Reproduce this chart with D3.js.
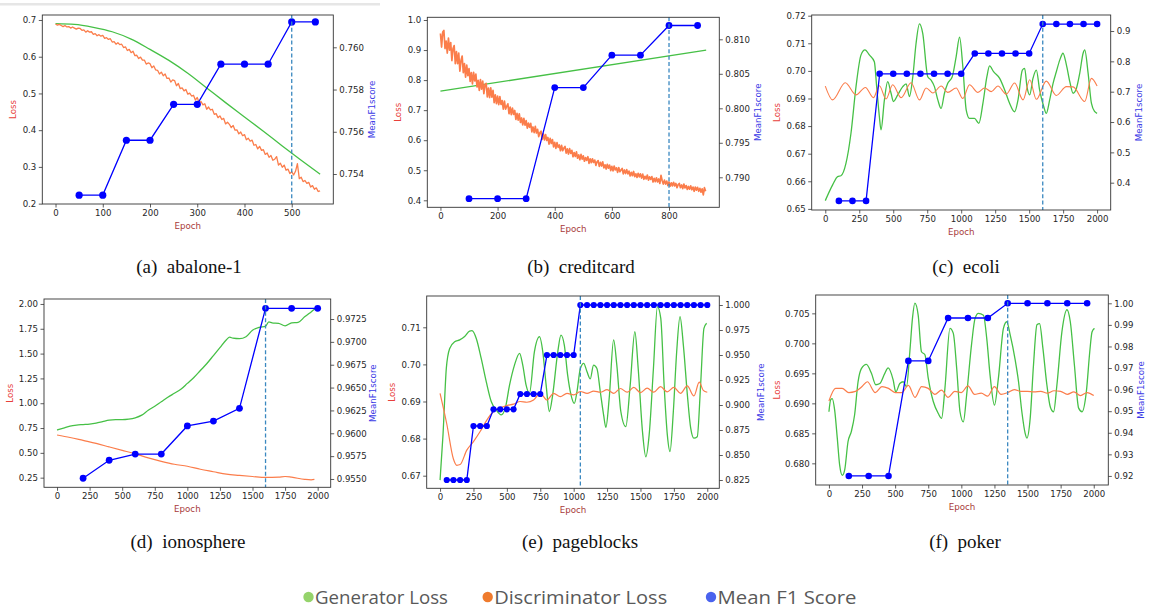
<!DOCTYPE html>
<html>
<head>
<meta charset="utf-8">
<script src="https://cdnjs.cloudflare.com/ajax/libs/d3/7.8.5/d3.min.js"></script>
<style>
  body { margin: 0; background: #fff; }
  svg { display: block; }
</style>
</head>
<body>
<svg id="chart" width="1153" height="607"></svg>
<script>
// ---- (a) abalone-1
const abaloneF1Epochs = [50, 100, 150, 200, 250, 300, 350, 400, 450, 500, 550];
const abaloneF1 = [0.7530, 0.7530, 0.7556, 0.7556, 0.7573, 0.7573, 0.7592, 0.7592, 0.7592, 0.7612, 0.7612];
const abaloneGenEpochs = [0, 40, 80, 120, 160, 200, 240, 280, 320, 360, 400, 440, 480, 520, 560];
const abaloneGen = [0.690, 0.688, 0.680, 0.668, 0.648, 0.620, 0.590, 0.555, 0.515, 0.475, 0.436, 0.397, 0.357, 0.318, 0.280];
const abaloneDiscStep = 4; // one value every 4 epochs
const abaloneDisc = [
  0.689, 0.686, 0.688, 0.685, 0.682, 0.685, 0.681, 0.682, 0.678, 0.681, 0.678, 0.675, 0.678,
  0.677, 0.672, 0.673, 0.667, 0.671, 0.667, 0.668, 0.661, 0.663, 0.657, 0.660, 0.656, 0.658,
  0.650, 0.652, 0.647, 0.649, 0.640, 0.641, 0.634, 0.638, 0.633, 0.634, 0.625, 0.627,
  0.617, 0.620, 0.611, 0.615, 0.603, 0.604, 0.595, 0.599, 0.591, 0.591, 0.580, 0.583, 0.581,
  0.570, 0.575, 0.564, 0.563, 0.553, 0.558, 0.548, 0.553, 0.541, 0.542, 0.531, 0.537,
  0.535, 0.521, 0.527, 0.513, 0.515, 0.507, 0.511, 0.498, 0.501, 0.493, 0.495, 0.482, 0.489,
  0.475, 0.478, 0.469, 0.472, 0.457, 0.463, 0.455, 0.457, 0.443, 0.445, 0.434, 0.439,
  0.429, 0.432, 0.417, 0.422, 0.416, 0.407, 0.413, 0.400, 0.401, 0.390, 0.395, 0.385, 0.388,
  0.374, 0.378, 0.370, 0.373, 0.359, 0.361, 0.349, 0.356, 0.345, 0.347, 0.334, 0.338,
  0.326, 0.331, 0.318, 0.321, 0.328, 0.305, 0.310, 0.299, 0.305, 0.291, 0.294, 0.282, 0.287,
  0.278, 0.288, 0.309, 0.268, 0.272, 0.260, 0.263, 0.255, 0.258, 0.245, 0.249, 0.239, 0.243, 0.233, 0.235
];

// ---- (b) creditcard
const creditF1Epochs = [100, 200, 300, 400, 500, 600, 700, 800, 900];
const creditF1 = [0.7869, 0.7869, 0.7869, 0.8030, 0.8030, 0.8077, 0.8077, 0.8120, 0.8120];
const creditGenEpochs = [0, 930];
const creditGen = [0.763, 0.900];
const creditDiscStep = 4;
const creditDisc = [
  0.955, 0.910, 0.960, 0.965, 0.905, 0.930, 0.890, 0.940, 0.900, 0.925, 0.865, 0.905, 0.915,
  0.855, 0.895, 0.855, 0.890, 0.830, 0.865, 0.880, 0.825, 0.855, 0.810, 0.850, 0.815,
  0.838, 0.796, 0.825, 0.787, 0.826, 0.797, 0.820, 0.777, 0.799, 0.766, 0.802, 0.770, 0.797,
  0.755, 0.785, 0.789, 0.744, 0.773, 0.742, 0.774, 0.743, 0.766, 0.725, 0.751, 0.722,
  0.747, 0.718, 0.745, 0.719, 0.732, 0.703, 0.730, 0.703, 0.713, 0.721, 0.688, 0.710, 0.685,
  0.707, 0.686, 0.699, 0.669, 0.689, 0.667, 0.688, 0.659, 0.674, 0.651, 0.673, 0.650,
  0.665, 0.640, 0.657, 0.643, 0.656, 0.628, 0.644, 0.625, 0.646, 0.624, 0.636, 0.612, 0.625,
  0.630, 0.603, 0.621, 0.601, 0.619, 0.599, 0.609, 0.587, 0.606, 0.589, 0.602, 0.578,
  0.593, 0.573, 0.592, 0.576, 0.584, 0.565, 0.583, 0.565, 0.574, 0.579, 0.557, 0.571, 0.554,
  0.572, 0.556, 0.566, 0.545, 0.559, 0.546, 0.561, 0.540, 0.551, 0.535, 0.553, 0.537,
  0.548, 0.530, 0.542, 0.533, 0.545, 0.523, 0.538, 0.525, 0.538, 0.526, 0.534, 0.516, 0.528,
  0.532, 0.513, 0.526, 0.514, 0.528, 0.508, 0.518, 0.504, 0.520, 0.507, 0.517, 0.499,
  0.513, 0.498, 0.514, 0.501, 0.508, 0.493, 0.509, 0.495, 0.501, 0.506, 0.488, 0.501, 0.489,
  0.502, 0.488, 0.497, 0.481, 0.493, 0.482, 0.496, 0.479, 0.488, 0.476, 0.490, 0.478,
  0.488, 0.474, 0.487, 0.470, 0.480, 0.471, 0.484, 0.467, 0.478, 0.470, 0.479, 0.461, 0.473,
  0.462, 0.475, 0.461, 0.471, 0.456, 0.483, 0.466, 0.454, 0.467, 0.454, 0.464, 0.449,
  0.461, 0.447, 0.458, 0.448, 0.460, 0.448, 0.456, 0.442, 0.452, 0.456, 0.442, 0.451, 0.439,
  0.454, 0.441, 0.449, 0.436, 0.446, 0.437, 0.448, 0.435, 0.444, 0.430, 0.444, 0.434,
  0.443, 0.430, 0.440, 0.427, 0.438, 0.418, 0.442, 0.430
];

// ---- (c) ecoli
const ecoliF1Epochs = [100, 200, 300, 400, 500, 600, 700, 800, 900, 1000, 1100, 1200, 1300, 1400, 1500, 1600, 1700, 1800, 1900, 2000];
const ecoliF1 = [0.34, 0.34, 0.34, 0.759, 0.759, 0.759, 0.759, 0.759, 0.759, 0.759, 0.826, 0.826, 0.826, 0.826, 0.826, 0.923, 0.923, 0.923, 0.923, 0.923];
const ecoliGenEpochs = [0, 54, 91, 115, 152, 189, 226, 263, 292, 324, 361, 378, 398, 410, 435, 459, 484, 501, 533, 570, 595, 619, 644, 668, 693, 717, 754, 778, 803, 828, 852, 877, 901, 934, 963, 988, 1012, 1037, 1061, 1098, 1130, 1160, 1189, 1209, 1238, 1283, 1320, 1356, 1393, 1418, 1450, 1467, 1484, 1504, 1528, 1553, 1577, 1607, 1626, 1651, 1676, 1700, 1725, 1749, 1774, 1799, 1823, 1848, 1872, 1897, 1909, 1934, 1958, 1983, 2000];
const ecoliGen = [0.6530, 0.6587, 0.6617, 0.6620, 0.6665, 0.6774, 0.6943, 0.7058, 0.7076, 0.7058, 0.7033, 0.6943, 0.6834, 0.6786, 0.6895, 0.6961, 0.6919, 0.6889, 0.6913, 0.6943, 0.6953, 0.6907, 0.6979, 0.7100, 0.7170, 0.7136, 0.6979, 0.6967, 0.6943, 0.6895, 0.6864, 0.6919, 0.6955, 0.6979, 0.7052, 0.7122, 0.7015, 0.6858, 0.6828, 0.6828, 0.6810, 0.6883, 0.6979, 0.7018, 0.6997, 0.6973, 0.6931, 0.6883, 0.6852, 0.6895, 0.7003, 0.7009, 0.6943, 0.6913, 0.6973, 0.7003, 0.6931, 0.6871, 0.6846, 0.6895, 0.6955, 0.6997, 0.7039, 0.7064, 0.7022, 0.6961, 0.6919, 0.6937, 0.6991, 0.7064, 0.7076, 0.6991, 0.6883, 0.6852, 0.6846];
const ecoliDiscEpochs = [0, 54, 147, 226, 295, 354, 398, 447, 496, 558, 631, 693, 742, 791, 853, 901, 963, 1012, 1061, 1123, 1172, 1221, 1270, 1332, 1393, 1455, 1504, 1553, 1626, 1700, 1774, 1823, 1909, 1958, 2000];
const ecoliDisc = [0.6945, 0.6895, 0.6957, 0.6913, 0.6940, 0.6903, 0.6946, 0.6898, 0.6950, 0.6903, 0.6957, 0.6895, 0.6938, 0.6920, 0.6945, 0.6922, 0.6938, 0.6900, 0.6950, 0.6922, 0.6938, 0.6925, 0.6945, 0.6916, 0.6956, 0.6895, 0.6968, 0.6897, 0.6963, 0.6911, 0.6943, 0.6942, 0.6889, 0.6973, 0.6945];

// ---- (d) ionosphere
const ionoF1Epochs = [200, 400, 600, 800, 1000, 1200, 1400, 1600, 1800, 2000];
const ionoF1 = [0.95508, 0.95705, 0.95773, 0.95773, 0.96080, 0.96134, 0.96273, 0.97367, 0.97367, 0.97367];
const ionoGenEpochs = [0, 50, 100, 150, 200, 250, 300, 350, 400, 450, 500, 550, 600, 650, 700, 750, 800, 850, 900, 950, 1000, 1050, 1100, 1150, 1200, 1250, 1300, 1325, 1350, 1400, 1450, 1500, 1550, 1600, 1625, 1650, 1700, 1750, 1800, 1850, 1900, 1950, 1975, 2000];
const ionoGen = [0.73, 0.75, 0.77, 0.78, 0.785, 0.79, 0.80, 0.815, 0.83, 0.835, 0.835, 0.84, 0.853, 0.88, 0.93, 0.97, 1.015, 1.06, 1.10, 1.14, 1.20, 1.26, 1.33, 1.40, 1.48, 1.56, 1.64, 1.665, 1.655, 1.65, 1.67, 1.735, 1.765, 1.775, 1.82, 1.81, 1.805, 1.78, 1.81, 1.815, 1.87, 1.92, 1.945, 1.95];
const ionoDiscEpochs = [0, 100, 200, 300, 400, 500, 600, 700, 800, 900, 1000, 1100, 1200, 1300, 1400, 1500, 1600, 1700, 1750, 1800, 1900, 1950, 1975];
const ionoDisc = [0.68, 0.655, 0.625, 0.595, 0.56, 0.525, 0.49, 0.45, 0.415, 0.385, 0.365, 0.335, 0.31, 0.285, 0.273, 0.262, 0.252, 0.255, 0.262, 0.255, 0.233, 0.228, 0.232];

// ---- (e) pageblocks
const pageF1Epochs = [50, 100, 150, 200, 250, 300, 350, 400, 450, 500, 550, 600, 650, 700, 750, 800, 850, 900, 950, 1000, 1050, 1100, 1150, 1200, 1250, 1300, 1350, 1400, 1450, 1500, 1550, 1600, 1650, 1700, 1750, 1800, 1850, 1900, 1950, 2000];
const pageF1 = [0.825, 0.825, 0.825, 0.825, 0.879, 0.879, 0.879, 0.8957, 0.8957, 0.8957, 0.8957, 0.911, 0.911, 0.911, 0.911, 0.95, 0.95, 0.95, 0.95, 0.95, 1, 1, 1, 1, 1, 1, 1, 1, 1, 1, 1, 1, 1, 1, 1, 1, 1, 1, 1, 1];
const pageGenEpochs = [0, 22, 47, 72, 109, 147, 184, 221, 239, 271, 308, 346, 383, 420, 458, 488, 520, 557, 595, 619, 644, 669, 706, 744, 769, 794, 818, 843, 881, 905, 930, 955, 980, 1005, 1025, 1050, 1075, 1100, 1124, 1149, 1174, 1199, 1224, 1241, 1266, 1299, 1323, 1353, 1390, 1423, 1458, 1483, 1515, 1540, 1565, 1597, 1627, 1652, 1677, 1701, 1721, 1746, 1771, 1796, 1821, 1851, 1876, 1900, 1925, 1950, 1975, 1995];
const pageGen = [0.6688, 0.6810, 0.6990, 0.7043, 0.7061, 0.7066, 0.7075, 0.7090, 0.7091, 0.7070, 0.7016, 0.6953, 0.6900, 0.6877, 0.6864, 0.6882, 0.6944, 0.6998, 0.7030, 0.6998, 0.6944, 0.6922, 0.7034, 0.7075, 0.7034, 0.6944, 0.6873, 0.6918, 0.7034, 0.7079, 0.7052, 0.6971, 0.6918, 0.6895, 0.6927, 0.6989, 0.7003, 0.6980, 0.6961, 0.6998, 0.6989, 0.6927, 0.6864, 0.6830, 0.6909, 0.7066, 0.6998, 0.6873, 0.6832, 0.6944, 0.7088, 0.6989, 0.6819, 0.6751, 0.6810, 0.6989, 0.7156, 0.7124, 0.6944, 0.6810, 0.6765, 0.6873, 0.7034, 0.7129, 0.7052, 0.6918, 0.6828, 0.6801, 0.6805, 0.6944, 0.7097, 0.7111];
const pageDiscEpochs = [0, 50, 100, 125, 150, 200, 250, 300, 350, 400, 450, 500, 550, 600, 650, 700, 750, 800, 850, 900, 950, 1000, 1050, 1100, 1150, 1200, 1250, 1300, 1350, 1400, 1450, 1500, 1550, 1600, 1650, 1700, 1750, 1800, 1850, 1900, 1940, 1970, 2000];
const pageDisc = [0.6922, 0.6840, 0.6745, 0.6728, 0.6730, 0.6769, 0.6792, 0.6819, 0.6850, 0.6873, 0.6883, 0.6889, 0.6893, 0.6900, 0.6898, 0.6904, 0.6922, 0.6904, 0.6922, 0.6913, 0.6922, 0.6918, 0.6927, 0.6922, 0.6928, 0.6925, 0.6932, 0.6922, 0.6935, 0.6925, 0.6938, 0.6924, 0.6936, 0.6925, 0.6940, 0.6926, 0.6938, 0.6922, 0.6942, 0.6915, 0.6952, 0.6930, 0.6925];

// ---- (f) poker
const pokerF1Epochs = [150, 300, 450, 600, 750, 900, 1050, 1200, 1350, 1500, 1650, 1800, 1950];
const pokerF1 = [0.92, 0.92, 0.92, 0.9733, 0.9733, 0.9932, 0.9932, 0.9932, 1.0, 1.0, 1.0, 1.0, 1.0];
const pokerGenEpochs = [0, 13, 25, 43, 63, 81, 101, 119, 144, 169, 194, 220, 245, 283, 321, 354, 384, 422, 447, 485, 505, 535, 561, 586, 611, 631, 649, 674, 699, 725, 750, 788, 826, 851, 876, 914, 939, 965, 990, 1015, 1040, 1078, 1104, 1129, 1167, 1192, 1217, 1250, 1280, 1318, 1343, 1369, 1407, 1432, 1457, 1482, 1495, 1520, 1545, 1571, 1591, 1616, 1646, 1672, 1697, 1722, 1760, 1798, 1823, 1854, 1886, 1912, 1944, 1970, 1987, 2005];
const pokerGen = [0.6886, 0.6906, 0.6908, 0.6889, 0.6842, 0.6797, 0.6780, 0.6789, 0.6836, 0.6853, 0.6881, 0.6936, 0.6958, 0.6965, 0.6950, 0.6931, 0.6933, 0.6950, 0.6959, 0.6939, 0.6919, 0.6933, 0.6936, 0.6928, 0.6986, 0.7042, 0.7067, 0.7047, 0.6986, 0.6981, 0.6942, 0.6903, 0.6883, 0.6875, 0.6925, 0.7025, 0.7017, 0.6958, 0.6886, 0.6869, 0.6914, 0.7000, 0.7042, 0.7050, 0.7047, 0.7008, 0.6947, 0.6897, 0.6942, 0.7025, 0.7036, 0.7014, 0.6972, 0.6936, 0.6886, 0.6850, 0.6842, 0.6875, 0.6964, 0.7031, 0.7033, 0.6992, 0.6931, 0.6894, 0.6886, 0.6931, 0.7020, 0.7056, 0.7036, 0.6964, 0.6892, 0.6886, 0.6919, 0.6986, 0.7019, 0.7025];
const pokerDiscEpochs = [0, 50, 100, 150, 200, 250, 290, 350, 400, 450, 500, 550, 600, 650, 700, 750, 800, 850, 900, 950, 1000, 1050, 1100, 1150, 1200, 1250, 1300, 1350, 1400, 1450, 1500, 1550, 1600, 1650, 1700, 1750, 1800, 1850, 1900, 1950, 2000];
const pokerDisc = [0.6904, 0.6925, 0.6925, 0.6918, 0.6920, 0.6928, 0.6936, 0.6918, 0.6928, 0.6925, 0.6918, 0.6918, 0.6930, 0.6910, 0.6928, 0.6925, 0.6915, 0.6922, 0.6910, 0.6920, 0.6918, 0.6929, 0.6915, 0.6917, 0.6912, 0.6928, 0.6915, 0.6918, 0.6923, 0.6920, 0.6920, 0.6919, 0.6920, 0.6917, 0.6921, 0.6920, 0.6915, 0.6919, 0.6913, 0.6918, 0.6913];

// ---- legend
const legendLabels = ["Generator Loss", "Discriminator Loss", "Mean F1 Score"];

const genColor = "#46c046";
const discColor = "#fb7d4b";
const f1Color = "#0000ff";
const tickFont = "DejaVu Sans";

const svg = d3.select("#chart");

// faint rule across the top left
svg.append("rect").attr("x", 0).attr("y", 3).attr("width", 380).attr("height", 2.5).attr("fill", "#e6e6e6");

const stepped = (arr, step) => arr.map((v, i) => [i * step, v]);

const panels = [
  {
    id: "a", left: 42.3, right: 333.3, top: 15, bottom: 204,
    xDomain: [-28, 588], lossDomain: [0.199, 0.7136], f1Domain: [0.75258, 0.76153],
    xTicks: d3.range(0, 501, 100), lossTicks: d3.range(0.2, 0.71, 0.1), lossFmt: ".1f",
    f1Ticks: [0.754, 0.756, 0.758, 0.760], f1Fmt: ".3f",
    gen: d3.zip(abaloneGenEpochs, abaloneGen), genCurve: d3.curveMonotoneX,
    disc: stepped(abaloneDisc, abaloneDiscStep), discCurve: d3.curveLinear, discWidth: 1.3,
    f1: d3.zip(abaloneF1Epochs, abaloneF1), best: 500, r: 3.6,
    lossLabelX: 13, f1LabelX: 372, caption: "(a)\u00a0 abalone-1", capX: 189, capY: 273
  },
  {
    id: "b", left: 427.3, right: 719.3, top: 17.3, bottom: 207.3,
    xDomain: [-46, 976], lossDomain: [0.3767, 1.009], f1Domain: [0.78565, 0.81319],
    xTicks: d3.range(0, 801, 200), lossTicks: d3.range(0.4, 1.01, 0.1), lossFmt: ".1f",
    f1Ticks: [0.790, 0.795, 0.800, 0.805, 0.810], f1Fmt: ".3f",
    gen: d3.zip(creditGenEpochs, creditGen), genCurve: d3.curveLinear,
    disc: stepped(creditDisc, creditDiscStep), discCurve: d3.curveLinear, discWidth: 1.7,
    f1: d3.zip(creditF1Epochs, creditF1), best: 800, r: 3.4,
    lossLabelX: 398, f1LabelX: 757.7, caption: "(b)\u00a0 creditcard", capX: 581, capY: 273
  },
  {
    id: "c", left: 811.7, right: 1110.7, top: 15, bottom: 210,
    xDomain: [-100, 2100], lossDomain: [0.6496, 0.72025], f1Domain: [0.31, 0.9528],
    xTicks: d3.range(0, 2001, 250), lossTicks: d3.range(0.65, 0.7201, 0.01), lossFmt: ".2f",
    f1Ticks: d3.range(0.4, 0.91, 0.1), f1Fmt: ".1f",
    gen: d3.zip(ecoliGenEpochs, ecoliGen), genCurve: d3.curveMonotoneX,
    disc: d3.zip(ecoliDiscEpochs, ecoliDisc), discCurve: d3.curveMonotoneX, discWidth: 1.1,
    f1: d3.zip(ecoliF1Epochs, ecoliF1), best: 1600, r: 3.3,
    lossLabelX: 776.7, f1LabelX: 1139.3, caption: "(c)\u00a0 ecoli", capX: 966, capY: 273
  },
  {
    id: "d", left: 44, right: 330.7, top: 299, bottom: 487.3,
    xDomain: [-100, 2100], lossDomain: [0.153, 2.05], f1Domain: [0.95409, 0.97469],
    xTicks: d3.range(0, 2001, 250), lossTicks: d3.range(0.25, 2.01, 0.25), lossFmt: ".2f",
    f1Ticks: d3.range(0.955, 0.9726, 0.0025), f1Fmt: ".4f",
    gen: d3.zip(ionoGenEpochs, ionoGen), genCurve: d3.curveMonotoneX,
    disc: d3.zip(ionoDiscEpochs, ionoDisc), discCurve: d3.curveMonotoneX, discWidth: 1.2,
    f1: d3.zip(ionoF1Epochs, ionoF1), best: 1600, r: 3.4,
    lossLabelX: 10, f1LabelX: 373.3, caption: "(d)\u00a0 ionosphere", capX: 188, capY: 548
  },
  {
    id: "e", left: 426.7, right: 719.3, top: 296, bottom: 488.3,
    xDomain: [-100, 2090], lossDomain: [0.6666, 0.71844], f1Domain: [0.8167, 1.009],
    xTicks: d3.range(0, 2001, 250), lossTicks: d3.range(0.67, 0.7101, 0.01), lossFmt: ".2f",
    f1Ticks: d3.range(0.825, 1.001, 0.025), f1Fmt: ".3f",
    gen: d3.zip(pageGenEpochs, pageGen), genCurve: d3.curveMonotoneX,
    disc: d3.zip(pageDiscEpochs, pageDisc), discCurve: d3.curveMonotoneX, discWidth: 1.2,
    f1: d3.zip(pageF1Epochs, pageF1), best: 1050, r: 3.1,
    lossLabelX: 391.7, f1LabelX: 761, caption: "(e)\u00a0 pageblocks", capX: 580, capY: 548
  },
  {
    id: "f", left: 815.7, right: 1108.3, top: 295, bottom: 485,
    xDomain: [-100, 2110], lossDomain: [0.67639, 0.70806], f1Domain: [0.9158, 1.00385],
    xTicks: d3.range(0, 2001, 250), lossTicks: d3.range(0.68, 0.7051, 0.005), lossFmt: ".3f",
    f1Ticks: d3.range(0.92, 1.001, 0.01), f1Fmt: ".2f",
    gen: d3.zip(pokerGenEpochs, pokerGen), genCurve: d3.curveMonotoneX,
    disc: d3.zip(pokerDiscEpochs, pokerDisc), discCurve: d3.curveMonotoneX, discWidth: 1.2,
    f1: d3.zip(pokerF1Epochs, pokerF1), best: 1350, r: 3.3,
    lossLabelX: 776.7, f1LabelX: 1140.7, caption: "(f)\u00a0 poker", capX: 965, capY: 548
  }
];

function styleAxis(sel) {
  sel.select(".domain").remove();
  sel.selectAll(".tick line").attr("stroke", "#333").attr("stroke-width", 0.8);
  sel.selectAll(".tick text")
    .attr("fill", "#262626")
    .style("font-family", tickFont)
    .style("font-size", "8.6px");
}

function drawPanel(p) {
  const x = d3.scaleLinear().domain(p.xDomain).range([p.left, p.right]);
  const yL = d3.scaleLinear().domain(p.lossDomain).range([p.bottom, p.top]);
  const yR = d3.scaleLinear().domain(p.f1Domain).range([p.bottom, p.top]);

  const g = svg.append("g").attr("class", "panel-" + p.id);

  const clipId = "clip-" + p.id;
  svg.append("clipPath").attr("id", clipId)
    .append("rect")
    .attr("x", p.left).attr("y", p.top)
    .attr("width", p.right - p.left).attr("height", p.bottom - p.top);

  const plot = g.append("g").attr("clip-path", `url(#${clipId})`);

  const lossLine = curve => d3.line().x(d => x(d[0])).y(d => yL(d[1])).curve(curve);

  plot.append("path").datum(p.gen)
    .attr("d", lossLine(p.genCurve))
    .attr("fill", "none").attr("stroke", genColor).attr("stroke-width", 1.3);

  plot.append("path").datum(p.disc)
    .attr("d", lossLine(p.discCurve))
    .attr("fill", "none").attr("stroke", discColor).attr("stroke-width", p.discWidth)
    .attr("stroke-linejoin", "round");

  // F1 on the twin axis
  plot.append("path").datum(p.f1)
    .attr("d", d3.line().x(d => x(d[0])).y(d => yR(d[1])))
    .attr("fill", "none").attr("stroke", f1Color).attr("stroke-width", 1.3);

  plot.selectAll("circle.f1").data(p.f1).join("circle")
    .attr("class", "f1")
    .attr("cx", d => x(d[0])).attr("cy", d => yR(d[1]))
    .attr("r", p.r).attr("fill", f1Color);

  // best epoch marker
  g.append("line")
    .attr("x1", x(p.best)).attr("x2", x(p.best))
    .attr("y1", p.top).attr("y2", p.bottom)
    .attr("stroke", "#3a88c0").attr("stroke-width", 1.3)
    .attr("stroke-dasharray", "4,2.4");

  // axes
  g.append("g").attr("transform", `translate(0,${p.bottom})`)
    .call(d3.axisBottom(x).tickValues(p.xTicks).tickFormat(d3.format("d")).tickSizeOuter(0).tickSize(3.5).tickPadding(2.5))
    .call(styleAxis);

  g.append("g").attr("transform", `translate(${p.left},0)`)
    .call(d3.axisLeft(yL).tickValues(p.lossTicks).tickFormat(d3.format(p.lossFmt)).tickSizeOuter(0).tickSize(3.5).tickPadding(2.5))
    .call(styleAxis);

  g.append("g").attr("transform", `translate(${p.right},0)`)
    .call(d3.axisRight(yR).tickValues(p.f1Ticks).tickFormat(d3.format(p.f1Fmt)).tickSizeOuter(0).tickSize(3.5).tickPadding(2.5))
    .call(styleAxis);

  g.append("rect")
    .attr("x", p.left).attr("y", p.top)
    .attr("width", p.right - p.left).attr("height", p.bottom - p.top)
    .attr("fill", "none").attr("stroke", "#333").attr("stroke-width", 0.9);

  const midY = (p.top + p.bottom) / 2;
  const labelFont = sel => sel.style("font-family", tickFont).style("font-size", "8.7px").attr("text-anchor", "middle");

  g.append("text").text("Loss")
    .attr("transform", `translate(${p.lossLabelX + 3},${midY}) rotate(-90)`)
    .attr("fill", "#e8403a").call(labelFont);

  g.append("text").text("MeanF1score")
    .attr("transform", `translate(${p.f1LabelX + 3},${midY}) rotate(-90)`)
    .attr("fill", "#3a3ae6").call(labelFont);

  g.append("text").text("Epoch")
    .attr("x", (p.left + p.right) / 2).attr("y", p.bottom + 25)
    .attr("fill", "#a83a3a").call(labelFont);

  svg.append("text").text(p.caption)
    .attr("x", p.capX).attr("y", p.capY)
    .attr("text-anchor", "middle")
    .attr("fill", "#111")
    .style("font-family", "'Liberation Serif', 'Times New Roman', serif")
    .style("font-size", "19px");
}

panels.forEach(drawPanel);

// legend
const legendColors = ["#95d36b", "#ef7b2d", "#4a63ee"];
const legendX = [308.5, 487.7, 711];
const legendWidths = [133, 173, 139];
const legend = svg.append("g").attr("class", "legend");
legendLabels.forEach((label, i) => {
  legend.append("circle").attr("cx", legendX[i]).attr("cy", 597).attr("r", 5.2).attr("fill", legendColors[i]);
  legend.append("text").text(label)
    .attr("x", legendX[i] + 6.5).attr("y", 603.5)
    .attr("textLength", legendWidths[i]).attr("lengthAdjust", "spacingAndGlyphs")
    .attr("fill", "#595959")
    .style("font-family", "'Open Sans', sans-serif")
    .style("font-size", "17.5px");
});
</script>
</body>
</html>
